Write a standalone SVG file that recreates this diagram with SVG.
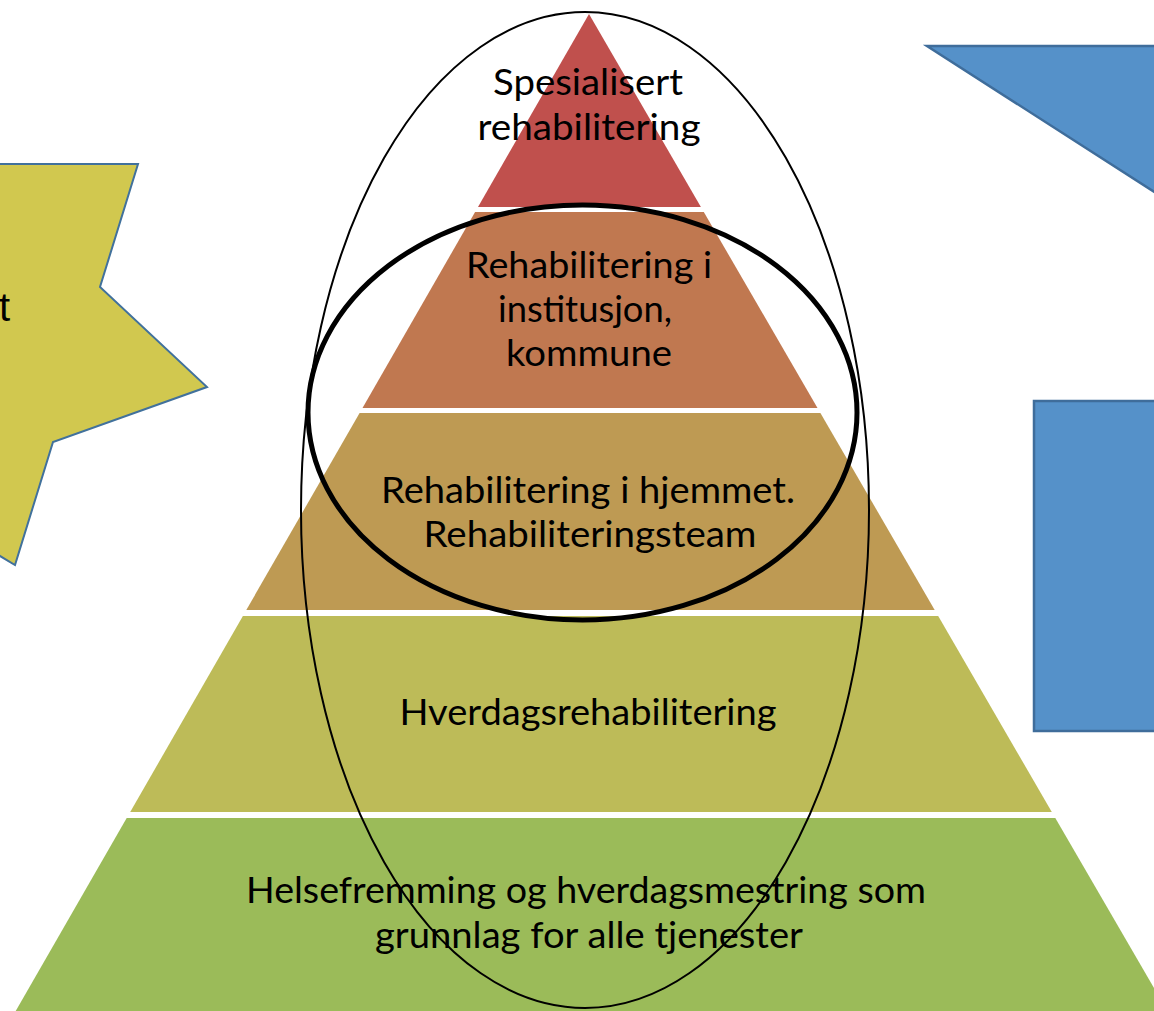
<svg xmlns="http://www.w3.org/2000/svg" width="1154" height="1011" viewBox="0 0 1154 1011">
  <style>
    .lbl { font-family: Lato, "Open Sans", "DejaVu Sans", sans-serif; font-size: 36px; fill: #000; text-anchor: middle; }
    .tier { stroke: none; }
    .blue { fill: #5591C9; stroke: #3F6D9B; stroke-width: 2.5; }
    .ring { fill: none; stroke: #000; }
  </style>

  <rect width="1154" height="1011" fill="#fff"/>

  <!-- left star, mostly off-canvas -->
  <g id="star">
    <polygon points="-60,164 138,164 100,287 207,387 53,442 15,565 -60,520" fill="#D1C84F" stroke="#41719C" stroke-width="2"/>
    <text x="10" y="321" font-family="Liberation Sans, Arial, sans-serif" font-size="40" text-anchor="end" fill="#000">t</text>
  </g>

  <!-- blue shapes on the right edge -->
  <g id="blue-triangle">
    <polygon class="blue" points="927,46 1170,46 1170,202"/>
  </g>
  <g id="blue-rect">
    <rect class="blue" x="1034" y="401" width="140" height="330"/>
  </g>

  <!-- pyramid tiers, top to bottom -->
  <g id="tier-specialised">
    <polygon class="tier" fill="#C0504D" points="589,14 700.9,207 478,207"/>
    <text class="lbl" x="588" y="95" textLength="190" lengthAdjust="spacingAndGlyphs">Spesialisert</text>
    <text class="lbl" x="589" y="140" textLength="223" lengthAdjust="spacingAndGlyphs">rehabilitering</text>
  </g>
  <g id="tier-institution">
    <polygon class="tier" fill="#C07850" points="475.1,212 703.8,212 817.5,408 362.5,408"/>
    <text class="lbl" x="589" y="278" textLength="246" lengthAdjust="spacingAndGlyphs">Rehabilitering i</text>
    <text class="lbl" x="585" y="322" textLength="174" lengthAdjust="spacingAndGlyphs">institusjon,</text>
    <text class="lbl" x="589" y="366" textLength="166" lengthAdjust="spacingAndGlyphs">kommune</text>
  </g>
  <g id="tier-home">
    <polygon class="tier" fill="#BE9A53" points="359.6,413 820.4,413 934.7,610 246.3,610"/>
    <text class="lbl" x="588" y="503" textLength="414" lengthAdjust="spacingAndGlyphs">Rehabilitering i hjemmet.</text>
    <text class="lbl" x="590" y="547" textLength="333" lengthAdjust="spacingAndGlyphs">Rehabiliteringsteam</text>
  </g>
  <g id="tier-everyday">
    <polygon class="tier" fill="#BDBB58" points="242.9,616 938.2,616 1051.8,812 130.2,812"/>
    <text class="lbl" x="588" y="725" textLength="377" lengthAdjust="spacingAndGlyphs">Hverdagsrehabilitering</text>
  </g>
  <g id="tier-foundation">
    <polygon class="tier" fill="#9BBB59" points="126.7,818 1055.3,818 1167.3,1011 15.7,1011"/>
    <text class="lbl" x="586" y="903" textLength="680" lengthAdjust="spacingAndGlyphs">Helsefremming og hverdagsmestring som</text>
    <text class="lbl" x="589" y="948" textLength="428" lengthAdjust="spacingAndGlyphs">grunnlag for alle tjenester</text>
  </g>

  <!-- outline rings drawn over the pyramid -->
  <g id="rings">
    <ellipse id="ring-outer" class="ring" cx="585" cy="510" rx="284" ry="498" stroke-width="2"/>
    <ellipse id="ring-inner" class="ring" cx="582.5" cy="412.5" rx="274.5" ry="207.5" stroke-width="5"/>
  </g>
</svg>
